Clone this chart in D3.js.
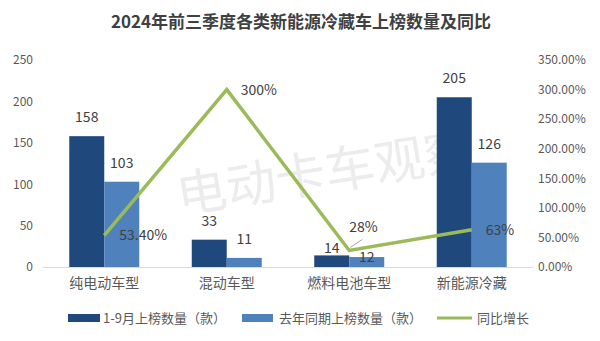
<!DOCTYPE html>
<html><head><meta charset="utf-8">
<script src="https://cdn.jsdelivr.net/npm/d3@7"></script>
<style>body{margin:0;background:#fff}svg{display:block}</style>
</head><body><div id="chart"></div>
<script>
const title = "2024年前三季度各类新能源冷藏车上榜数量及同比";
const categories = ["纯电动车型","混动车型","燃料电池车型","新能源冷藏"];
const seriesNames = ["1-9月上榜数量（款）","去年同期上榜数量（款）","同比增长"];
const current = [158, 33, 14, 205];
const lastYear = [103, 11, 12, 126];
const growth = [0.534, 3.00, 0.28, 0.63];
const growthLabels = ["53.40%","300%","28%","63%"];
const leftTicks = [0,50,100,150,200,250];
const rightTicks = [0,0.5,1,1.5,2,2.5,3,3.5];

const W=600,H=341;
const colors=["#1F497D","#4F81BD","#9BBB59"];
const font="'Noto Sans CJK SC','Noto Sans',sans-serif";
const svg=d3.select("#chart").append("svg").attr("width",W).attr("height",H).style("font-family",font);

const x0=d3.scaleBand().domain(categories).range([43,533]).paddingInner(0).paddingOuter(0);
const y=d3.scaleLinear().domain([0,250]).range([267,60]);
const y2=d3.scaleLinear().domain([0,3.5]).range([267,60]);
const bw=35;

// title
svg.append("text").attr("x",301).attr("y",28).attr("text-anchor","middle")
 .attr("font-size",17).attr("font-weight","bold").attr("fill","#404040").text(title);

// watermark
svg.append("text").attr("transform","translate(328,190) rotate(-9)").attr("text-anchor","middle")
 .attr("font-size",50).attr("fill","#ececec").text("电动卡车观察");

// left axis
const la=svg.append("g").attr("transform","translate(33,0)").call(d3.axisLeft(y).tickValues(leftTicks).tickSize(0).tickPadding(0));
la.select(".domain").remove();
la.selectAll("text").attr("font-size",12).attr("fill","#595959").style("font-family",font);
// right axis
const ra=svg.append("g").attr("transform","translate(538,0)").call(d3.axisRight(y2).tickValues(rightTicks).tickSize(0).tickPadding(0).tickFormat(d=>(d*100).toFixed(2)+"%"));
ra.select(".domain").remove();
ra.selectAll("text").attr("font-size",12).attr("fill","#595959").style("font-family",font);

// bars
const cx=c=>x0(c)+x0.bandwidth()/2;
svg.selectAll(".b1").data(categories).enter().append("rect")
 .attr("x",c=>cx(c)-bw).attr("width",bw).attr("y",(c,i)=>y(current[i])).attr("height",(c,i)=>y(0)-y(current[i])).attr("fill",colors[0]);
svg.selectAll(".b2").data(categories).enter().append("rect")
 .attr("x",c=>cx(c)).attr("width",bw).attr("y",(c,i)=>y(lastYear[i])).attr("height",(c,i)=>y(0)-y(lastYear[i])).attr("fill",colors[1]);

// base axis line
svg.append("line").attr("x1",43).attr("x2",533).attr("y1",267.5).attr("y2",267.5).attr("stroke","#d9d9d9");

// category labels
svg.selectAll(".cat").data(categories).enter().append("text")
 .attr("x",c=>cx(c)).attr("y",288).attr("text-anchor","middle").attr("font-size",14).attr("fill","#595959").text(c=>c);

// bar labels
const lblOff1=[14,14,2,14], lblOff2=[14,14,-5,14];
svg.selectAll(".l1").data(categories).enter().append("text")
 .attr("x",c=>cx(c)-bw/2).attr("y",(c,i)=>y(current[i])-lblOff1[i]).attr("text-anchor","middle").attr("font-size",14).attr("fill","#404040").text((c,i)=>current[i]);
svg.selectAll(".l2").data(categories).enter().append("text")
 .attr("x",c=>cx(c)+bw/2).attr("y",(c,i)=>y(lastYear[i])-lblOff2[i]).attr("text-anchor","middle").attr("font-size",14).attr("fill","#404040").text((c,i)=>lastYear[i]);

// line
const line=d3.line().x((d,i)=>cx(categories[i])).y(d=>y2(d));
svg.append("path").datum(growth).attr("d",line).attr("fill","none").attr("stroke",colors[2]).attr("stroke-width",3.5).attr("stroke-linejoin","miter");

// growth labels
const gdx=[15,14,0,14], gdy=[5,5,-18,5];
svg.append("line").attr("x1",cx(categories[2])+1).attr("y1",y2(growth[2])-3).attr("x2",cx(categories[2])+13).attr("y2",y2(growth[2])-11).attr("stroke","#a6a6a6").attr("stroke-width",1);
svg.selectAll(".gl").data(categories).enter().append("text")
 .attr("x",(c,i)=>cx(c)+gdx[i]).attr("y",(c,i)=>y2(growth[i])+gdy[i]).attr("font-size",14).attr("fill","#404040").text((c,i)=>growthLabels[i]);

// legend
const lg=svg.append("g").attr("font-size",13).attr("fill","#595959");
lg.append("rect").attr("x",68).attr("y",314).attr("width",32).attr("height",8).attr("fill",colors[0]);
lg.append("text").attr("x",103).attr("y",323).text(seriesNames[0]);
lg.append("rect").attr("x",242).attr("y",314).attr("width",31).attr("height",8).attr("fill",colors[1]);
lg.append("text").attr("x",279).attr("y",323).text(seriesNames[1]);
lg.append("line").attr("x1",437).attr("x2",472).attr("y1",318).attr("y2",318).attr("stroke",colors[2]).attr("stroke-width",3);
lg.append("text").attr("x",477).attr("y",323).text(seriesNames[2]);
</script></body></html>
